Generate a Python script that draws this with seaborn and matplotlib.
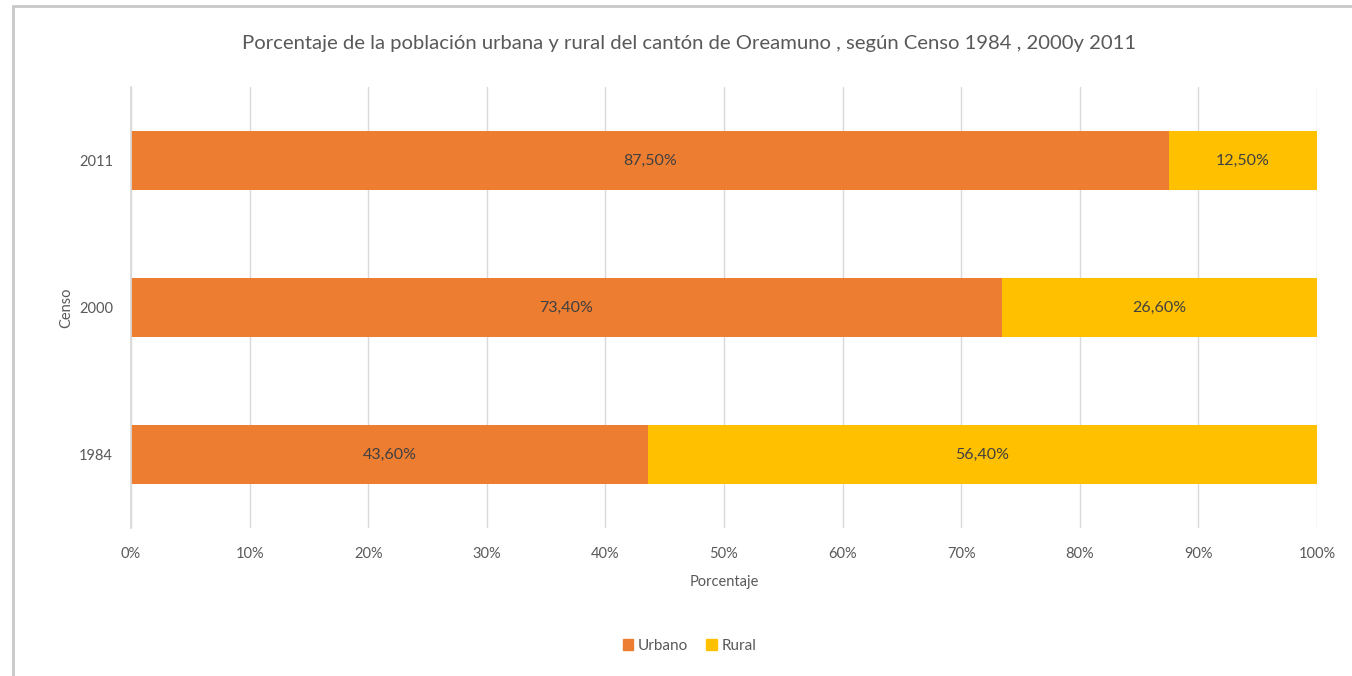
import numpy as np
import pandas as pd
import matplotlib.pyplot as plt
from matplotlib.lines import Line2D
from matplotlib.patches import Patch
import seaborn as sns

CENSOS = ['2011', '2000', '1984']
URBANO = [87.5, 73.4, 43.6]
RURAL = [12.5, 26.6, 56.4]
X_TICKS = list(range(0, 101, 10))

C_URB = '#ED7D31'
C_RUR = '#FFC000'
TXT = '#595959'

sns.set_theme(style='white')
plt.rcParams['font.family'] = ['Lato', 'DejaVu Sans']

df = pd.DataFrame({'Censo': CENSOS, 'Urbano': URBANO, 'Rural': RURAL})
df['Total'] = df['Urbano'] + df['Rural']

fig = plt.figure(figsize=(13.52, 6.76), dpi=100)
ax = fig.add_axes([131 / 1352, 1 - 528 / 676, (1317 - 131) / 1352, (528 - 87) / 676])

sns.barplot(data=df, y='Censo', x='Total', order=CENSOS, color=C_RUR,
            width=0.4, ax=ax, saturation=1, edgecolor='none')
sns.barplot(data=df, y='Censo', x='Urbano', order=CENSOS, color=C_URB,
            width=0.4, ax=ax, saturation=1, edgecolor='none')

for i, (u, r) in enumerate(zip(URBANO, RURAL)):
    ax.text(u / 2, i, f'{u:.2f}%'.replace('.', ','), ha='center', va='center',
            fontsize=11.5, color='#404040')
    ax.text(u + r / 2, i, f'{r:.2f}%'.replace('.', ','), ha='center', va='center',
            fontsize=11.5, color='#404040')

ax.set_xlim(0, 100)
ax.set_ylim(2.5, -0.5)
ax.set_xticks(X_TICKS)
ax.set_xticklabels([f'{t}%' for t in X_TICKS], fontsize=10.5, color=TXT)
ax.tick_params(axis='x', length=0, pad=14)
ax.tick_params(axis='y', length=0, pad=13, labelsize=10.5, labelcolor=TXT)
ax.grid(axis='x', color='#D9D9D9', lw=1)
ax.set_axisbelow(True)
for s in ['top', 'right', 'bottom']:
    ax.spines[s].set_visible(False)
ax.spines['left'].set_color('#D9D9D9')
ax.set_xlabel('Porcentaje', fontsize=10.5, color=TXT, labelpad=10)
ax.set_ylabel('Censo', fontsize=10.5, color=TXT, labelpad=4)

fig.text(689 / 1352, 1 - 43 / 676,
         'Porcentaje de la población urbana y rural del cantón de Oreamuno , según Censo 1984 , 2000y 2011',
         ha='center', va='center', fontsize=14.6, color=TXT)

handles = [Patch(color=C_URB, label='Urbano'), Patch(color=C_RUR, label='Rural')]
fig.legend(handles=handles, loc='center', bbox_to_anchor=(0.51, 1 - 646 / 676), ncol=2,
           frameon=False, fontsize=11, labelcolor=TXT, handlelength=0.7,
           handleheight=0.7, handletextpad=0.3, columnspacing=1.2)

# chart frame (left and top edges visible in the reference)
fig.add_artist(Line2D([13 / 1352, 13 / 1352], [0, 1 - 6 / 676], color='#C8C8C8', lw=2,
                      transform=fig.transFigure))
fig.add_artist(Line2D([13 / 1352, 1], [1 - 6 / 676, 1 - 6 / 676], color='#C8C8C8', lw=2,
                      transform=fig.transFigure))

fig.savefig('out.png', dpi=100)
